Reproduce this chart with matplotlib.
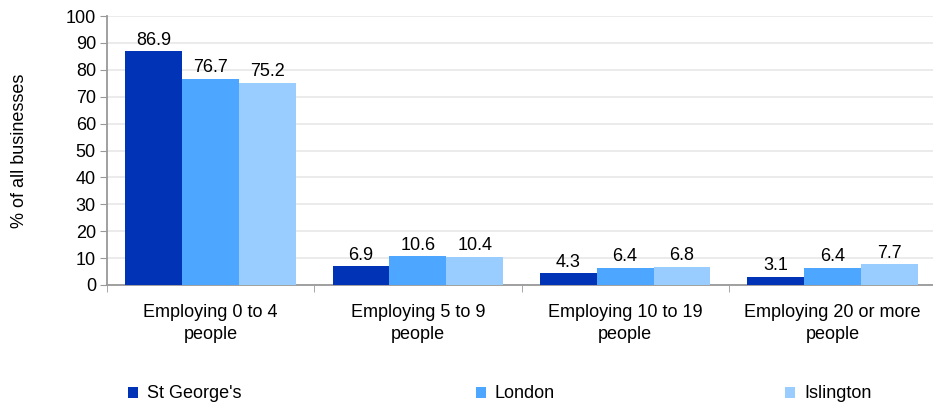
import matplotlib
matplotlib.use("Agg")
import matplotlib.pyplot as plt
import numpy as np
from matplotlib.patches import Patch

plt.rcParams['font.family'] = ['Liberation Sans', 'DejaVu Sans']

categories = ["Employing 0 to 4\npeople", "Employing 5 to 9\npeople",
              "Employing 10 to 19\npeople", "Employing 20 or more\npeople"]
series_names = ["St George's", "London", "Islington"]
st_georges = [86.9, 6.9, 4.3, 3.1]
london = [76.7, 10.6, 6.4, 6.4]
islington = [75.2, 10.4, 6.8, 7.7]
colors = ["#0033B6", "#4DA6FF", "#99CCFF"]

FS = 13

fig = plt.figure(figsize=(9.33, 4.05), dpi=100)
ax = fig.add_axes([0.1147, 0.2963, 0.8885, 0.664])

x = np.arange(len(categories))
w = 0.274
for i, (vals, c) in enumerate(zip([st_georges, london, islington], colors)):
    pos = x + (i - 1) * w
    ax.bar(pos, vals, width=w, color=c, zorder=3)
    for p, v in zip(pos, vals):
        ax.annotate(f"{v:.1f}", (p, v), xytext=(0, 2), textcoords='offset points',
                    ha='center', va='bottom', fontsize=FS, color='black')

ax.set_xlim(-0.5, len(categories) - 0.5)
ax.set_ylim(0, 100)
ax.set_yticks(range(0, 101, 10))
ax.tick_params(axis='y', labelsize=FS, length=5, color='#999999', direction='out', pad=3)
ax.set_xticks(x)
ax.set_xticklabels(categories, fontsize=FS, linespacing=1.35)
ax.tick_params(axis='x', length=0, pad=14)
ax.set_xticks(np.arange(-0.5, len(categories), 1), minor=True)
ax.tick_params(axis='x', which='minor', length=5, color='#999999', direction='out')
ax.yaxis.grid(True, color='#e8e8e8', linewidth=1.2, zorder=0)
for s in ['top', 'right']:
    ax.spines[s].set_visible(False)
for s in ['left', 'bottom']:
    ax.spines[s].set_color('#999999')
    ax.spines[s].set_linewidth(1.3)
ax.set_ylabel("% of all businesses", fontsize=FS)
ax.yaxis.set_label_coords(-0.095, 0.5)

legend_x = [128 / 933, 476 / 933, 785 / 933]
for name, c, lx in zip(series_names, colors, legend_x):
    fig.legend(handles=[Patch(facecolor=c, label=name)], loc='center left',
               bbox_to_anchor=(lx, 1 - 394 / 405), frameon=False, fontsize=FS,
               handlelength=0.55, handleheight=0.55, handletextpad=0.5,
               borderpad=0, borderaxespad=0)

fig.savefig("out.png", dpi=100)
